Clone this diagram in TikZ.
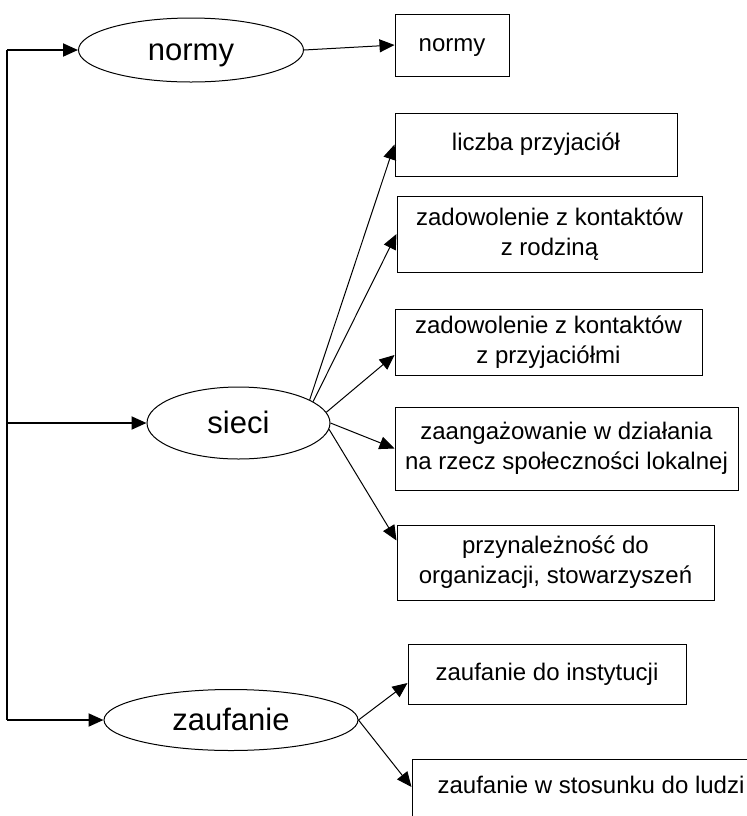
\documentclass[tikz,border=0pt]{standalone}
\usepackage{fontspec}
\setmainfont{Liberation Sans}
\usetikzlibrary{shapes.geometric,arrows.meta}

\begin{document}
\begin{tikzpicture}[x=0.5pt,y=-0.5pt,
  oval/.style={draw,ellipse,inner sep=0pt,line width=0.5pt,text height=11pt,text depth=1pt,font=\fontsize{15.5}{18}\selectfont},
  box/.style={draw,rectangle,inner sep=0pt,line width=0.5pt,text height=8.5pt,text depth=2.3pt,font=\fontsize{12}{15}\selectfont},
  twobox/.style={draw,rectangle,inner sep=0pt,line width=0.5pt,align=center,font=\fontsize{12}{15}\selectfont},
  link/.style={line width=0.5pt,-{Triangle[length=7.5pt,width=6.5pt]}},
  rail/.style={line width=1pt}]

\useasboundingbox (0,0) rectangle (747,816);
\clip (0,0) rectangle (747,816);

% Nodes
\node[oval,minimum width=112.5pt,minimum height=32pt] (normyE) at (191,50) {normy};
\node[oval,minimum width=91.5pt,minimum height=36pt] (sieciE) at (238.5,423) {sieci};
\node[oval,minimum width=127pt,minimum height=30.5pt] (zaufanieE) at (231,720) {zaufanie};

\node[box,minimum width=57pt,minimum height=31pt] (normyB) at (452,45) {normy};
\node[box,minimum width=141pt,minimum height=31.5pt] (liczba) at (536,144.5) {liczba przyjaciół};
\node[twobox,minimum width=152.5pt,minimum height=38pt] (rodzina) at (549.5,234) {zadowolenie z kontaktów\\z rodziną};
\node[twobox,minimum width=153.5pt,minimum height=33pt] (przyjaciele) at (548.5,342) {zadowolenie z kontaktów\\z przyjaciółmi};
\node[twobox,minimum width=171.5pt,minimum height=41.5pt] (zaangazowanie) at (566.5,448.5) {zaangażowanie w działania\\na rzecz społeczności lokalnej};
\node[twobox,minimum width=158.5pt,minimum height=37.5pt] (przynaleznosc) at (555.5,562.5) {przynależność do\\organizacji, stowarzyszeń};
\node[box,minimum width=139pt,minimum height=30pt] (instytucje) at (547,674) {zaufanie do instytucji};
\node[box,anchor=base,minimum width=179pt,text height=8.8pt,text depth=30pt,inner ysep=8pt] (ludzie) at (591,793) {zaufanie w stosunku do ludzi};

\coordinate (railtop) at (7,50);
\coordinate (railbot) at (7,720);

% Arrows
\draw[rail] (railtop) -- (railbot);
\draw[rail,link,line width=1pt] (railtop) -- (normyE.west);
\draw[rail,link,line width=1pt] (railtop |- sieciE) -- (sieciE.west);
\draw[rail,link,line width=1pt] (railbot) -- (zaufanieE.west);

\draw[link] (normyE.east) -- (normyB.west);

\draw[link] (sieciE.18) -- (liczba.west);
\draw[link] (sieciE.16) -- (rodzina.west);
\draw[link] (sieciE.7) -- ([yshift=-6.5pt]przyjaciele.west);
\draw[link] (sieciE.0) -- (zaangazowanie.west);
\draw[link] (sieciE.-4) -- ([yshift=11pt]przynaleznosc.west);

\draw[link] (zaufanieE.east) -- ([yshift=-4.5pt]instytucje.west);
\draw[link] (zaufanieE.east) -- ([yshift=3pt]ludzie.base west);

\end{tikzpicture}
\end{document}
